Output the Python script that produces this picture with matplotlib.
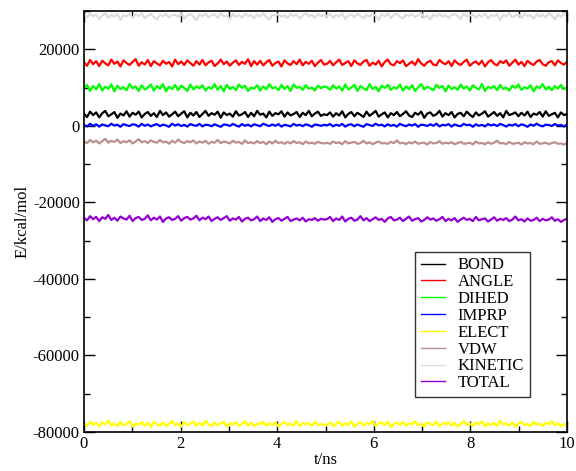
import numpy as np
import matplotlib
matplotlib.use("Agg")
import matplotlib.pyplot as plt
from matplotlib.ticker import MultipleLocator

labels = ["BOND", "ANGLE", "DIHED", "IMPRP", "ELECT", "VDW", "KINETIC", "TOTAL"]
colors = ["#000000", "#ff0000", "#00ff00", "#0000ff", "#ffff00", "#bc8f8f", "#dcdcdc", "#9400d3"]

BOND = [3100, 2300, 3700, 2800, 3500, 2200, 3300, 3900, 2500, 3000, 3600, 2100, 3200, 2700, 3800, 2400,
        3400, 2900, 3700, 2200, 3100, 3600, 2600, 3300, 2300, 3900, 2800, 3500, 2400, 3000, 3700, 2500,
        3200, 3800, 2200, 3400, 2700, 3600, 2300, 3100, 3900, 2600, 3300, 2900, 3700, 2100, 3500, 2800,
        3200, 2400, 3800, 2700, 3000, 3600, 2300, 3400, 2500, 3900, 2900, 3200, 2200, 3700, 2600, 3300,
        3000, 3800, 2400, 3500, 2700, 3100, 3600, 2300, 3400, 2800, 3900, 2500, 3200, 3700, 2600, 3000,
        2800, 3500, 2400, 3300, 2700, 3800, 2200, 3100, 3600, 2500, 3400, 2900, 2300, 3700, 2600, 3200,
        3900, 2400, 3000, 3500, 2200, 3300, 2800, 3600, 2500, 3100, 3800, 2700, 2300, 3400, 2900, 3700,
        2100, 3200, 3500, 2600, 3000, 3900, 2400, 3300, 2800, 3600, 2200, 3100, 3400, 2500, 3700, 2900,
        2300, 3500, 2700, 3200, 3800, 2400, 3000, 3600, 2600, 3300, 2200, 3900, 2800, 3100, 3500, 2500,
        3400, 2700, 3700, 2300, 3200, 2900, 3600, 2400, 3800, 2600, 3000, 3400, 2200, 3500, 2800, 3100]
ANGLE = [16500, 15700, 17200, 16100, 16900, 15600, 17000, 16300, 15800, 17300, 16200, 16800, 15500, 17100,
         16400, 15900, 16700, 17400, 15700, 16600, 16000, 17200, 15600, 16900, 16300, 15800, 17000, 16200,
         16700, 15500, 17300, 16100, 16800, 15900, 17100, 16400, 15700, 16900, 16000, 17200, 15800, 16600,
         17000, 15600, 16300, 17300, 16100, 16800, 15700, 16500, 17100, 15900, 16700, 16200, 17400, 15600,
         16900, 16000, 17000, 15800, 16600, 17200, 15700, 16400, 16800, 15500, 17100, 16300, 15900, 16900,
         16100, 17300, 15800, 16700, 16200, 17000, 15600, 16500, 17200, 16000,
         16200, 17000, 15800, 16600, 17300, 15900, 16400, 16900, 15600, 17100, 16300, 15900, 16800, 17200,
         15700, 16500, 16000, 17000, 15500, 16700, 17300, 16100, 15800, 16900, 16400, 17100, 15600, 16200,
         16800, 15900, 17400, 16300, 15700, 16600, 17000, 16000, 15800, 17200, 16500, 16100, 16900, 15600,
         17100, 16300, 15900, 16700, 17300, 15700, 16400, 16800, 16000, 17000, 15500, 16600, 17200, 16200,
         15800, 16900, 16400, 17100, 15700, 16500, 17300, 16000, 16700, 15600, 17000, 16300, 15900, 16800,
         17200, 16100, 15700, 16600, 16900, 15800, 17100, 16400, 16000, 16700]
DIHED = [9800, 10700, 9100, 10400, 9500, 10900, 9200, 10200, 9700, 10800, 9000, 10500, 9600, 10100, 9300,
         10900, 9800, 10300, 9100, 10600, 9500, 10000, 10800, 9200, 10400, 9700, 10900, 9000, 10200, 9600,
         10700, 9300, 10500, 9900, 9100, 10800, 9500, 10300, 9800, 10600, 9200, 10100, 9700, 10900, 9400,
         10400, 9000, 10700, 9600, 10200, 9300, 10800, 9900, 10500, 9100, 10000, 9700, 10600, 9200, 10300,
         9500, 10900, 9800, 10100, 9300, 10700, 9600, 10400, 9100, 10800, 9900, 10200, 9400, 10600, 9700,
         10000, 9200, 10500, 9800, 10300,
         10100, 9400, 10600, 9700, 10300, 9200, 10800, 9500, 10000, 10700, 9100, 10400, 9800, 9300, 10900,
         9600, 10200, 9000, 10500, 9900, 10700, 9400, 10100, 9700, 10800, 9200, 10300, 9600, 10600, 9100,
         10000, 10900, 9500, 10200, 9800, 9300, 10700, 9900, 10400, 9000, 10500, 9600, 10100, 9400, 10800,
         9700, 10300, 9200, 10600, 9900, 9500, 10900, 9100, 10200, 9800, 10400, 9300, 10700, 9600, 10000,
         9200, 10500, 9900, 10800, 9400, 10100, 9700, 10600, 9000, 10300, 9800, 10900, 9500, 10200, 9300,
         10400, 9700, 10700, 9600, 10000]
IMPRP = [200, -150, 500, 0, 400, -200, 350, 100, -100, 550, 50, 300, -250, 450, 150, -50, 400, 250, -200,
         500, 0, 350, -150, 200, 450, -100, 300, 100, -250, 550, 50, 400, -50, 250, -200, 450, 150, 0, 500,
         -150, 300, 200, -100, 400, 50, -250, 350, 250, -50, 500, 100, -200, 450, 0, 300, -150, 400, 150,
         -100, 550, 200, -50, 350, 0, 450, -200, 250, 100, -150, 500, 50, 300, -100, 400, 150, -250, 350,
         200, 0, 250,
         100, 450, -150, 300, 0, 500, -200, 250, 400, -100, 350, 50, -250, 450, 200, -50, 550, 100, 300,
         -150, 400, 0, 250, -200, 500, 150, -100, 350, 50, 450, -250, 300, 200, -50, 400, 0, 550, -150,
         250, 100, 450, -200, 350, 50, -100, 500, 150, 300, -250, 400, 0, 250, -150, 450, 100, 350, -50,
         500, 200, -200, 300, 50, 450, -100, 400, 150, -250, 350, 0, 550, 100, -150, 300, 200, -50, 450,
         50, 250, -200, 400]
ELECT = [-77800, -78400, -77300, -78100, -77600, -78600, -77500, -78000, -77100, -78300, -77700, -78500,
         -77400, -78200, -77900, -77200, -78600, -77800, -78100, -77400, -78400, -77600, -78700, -77300,
         -78000, -78300, -77500, -78500, -77800, -77200, -78200, -77700, -78600, -77400, -78100, -77900,
         -77300, -78400, -77600, -78300, -77100, -78000, -78500, -77500, -78200, -77800, -77300, -78600,
         -77700, -78100, -77400, -78400, -77900, -77200, -78300, -77600, -78500, -77800, -78000, -77300,
         -78400, -77700, -78200, -77500, -78600, -77900, -77400, -78100, -77800, -78300, -77200, -78500,
         -77600, -78000, -77700, -78400, -77300, -78200, -77900, -78100,
         -78200, -77500, -78500, -77800, -77300, -78400, -77700, -78100, -77200, -78600, -77900, -77400,
         -78300, -77600, -78000, -77100, -78500, -77800, -77500, -78200, -77300, -78700, -77900, -77600,
         -78100, -77400, -78400, -77700, -78000, -77200, -78300, -77800, -78600, -77500, -77900, -78200,
         -77300, -78500, -77700, -78000, -77400, -78300, -77600, -78600, -77900, -77200, -78100, -77800,
         -78400, -77500, -78000, -77300, -78500, -77700, -78200, -77600, -78400, -77100, -78000, -77800,
         -78300, -77500, -78600, -77700, -77400, -78200, -77900, -78500, -77300, -78100, -77800, -78400,
         -77600, -78000, -77200, -78300, -77700, -78500, -77900, -78000]
VDW = [-4100, -4500, -3700, -4300, -3900, -4600, -4000, -3400, -4400, -3900, -4200, -3600, -4500, -4000,
       -4300, -3800, -4600, -4100, -3500, -4300, -4000, -4500, -3800, -4200, -4400, -3700, -4300, -4100,
       -4700, -3900, -4400, -3600, -4200, -4500, -4000, -4300, -3800, -4600, -4100, -4400, -3900, -4700,
       -4200, -4400, -3700, -4500, -4100, -4300, -4600, -3900, -4400, -4200, -4700, -3800, -4500, -4300,
       -4600, -4000, -4500, -4200, -4800, -4100, -4600, -3900, -4500, -4300, -4700, -4200, -4600, -4000,
       -4500, -4300, -4800, -4100, -4600, -4400, -4700, -4200, -4500, -4600,
       -4400, -4700, -4100, -4500, -4300, -4800, -4000, -4600, -4400, -4200, -4700, -4500, -3900, -4600,
       -4300, -4800, -4400, -4100, -4600, -4500, -4700, -4200, -4500, -3800, -4600, -4400, -4800, -4300,
       -4600, -4100, -4700, -4500, -4400, -4900, -4200, -4600, -4500, -4000, -4700, -4400, -4600, -4300,
       -4800, -4500, -4200, -4700, -4600, -4400, -4900, -4100, -4600, -4500, -4800, -4300, -4700, -4400,
       -3900, -4600, -4500, -4800, -4200, -4700, -4600, -4400, -4900, -4300, -4600, -4500, -4800, -4100,
       -4700, -4600, -4400, -4800, -4500, -4300, -4700, -4600, -4900, -4500]
KINETIC = [28900, 28400, 29300, 28600, 29100, 27900, 28800, 29400, 28300, 29000, 28500, 29200, 27700, 28900,
           28600, 29300, 28200, 29000, 28700, 29400, 28100, 28800, 29200, 28400, 27800, 29100, 28600, 29300,
           28300, 28900, 29000, 28500, 29400, 28000, 28800, 29200, 28600, 27600, 29000, 28700, 29300, 28400,
           28900, 29100, 28200, 29400, 28600, 28800, 27900, 29200, 28500, 29000, 28300, 29300, 28700, 28900,
           28100, 29100, 28600, 29400, 28400, 27800, 29000, 28800, 29200, 28500, 28900, 28200, 29300, 28700,
           29100, 28000, 28800, 29400, 28600, 29000, 28300, 29200, 28700, 28900,
           28700, 29200, 28300, 29000, 28600, 29400, 27900, 28800, 29100, 28400, 29300, 28700, 28100, 29000,
           28500, 29200, 28800, 27700, 29100, 28600, 29400, 28200, 28900, 29300, 28500, 28000, 29000, 28700,
           29200, 28400, 28900, 29400, 28300, 28800, 27800, 29100, 28600, 29300, 28500, 29000, 28200, 28900,
           29200, 28700, 27900, 29400, 28600, 28800, 29100, 28300, 29000, 28500, 29300, 28100, 28900, 28700,
           29200, 27600, 29000, 28600, 29400, 28400, 28800, 29100, 28200, 29300, 28700, 28900, 28000, 29200,
           28600, 29000, 28400, 29400, 28800, 27800, 29100, 28500, 29300, 28700]
TOTAL = [-24100, -24700, -23600, -24400, -23800, -24900, -23900, -24300, -23300, -24600, -24000, -24800,
         -23700, -24200, -24500, -23500, -24900, -24100, -23800, -24600, -24300, -23400, -24700, -24000,
         -24500, -23700, -25100, -24200, -23900, -24600, -24300, -23600, -24800, -24100, -23800, -24500,
         -24200, -23500, -24700, -24000, -24400, -23700, -24900, -24300, -23900, -24600, -24100, -23600,
         -24800, -24200, -24500, -23800, -25000, -24300, -24000, -24700, -24400, -23700, -24900, -24200,
         -24600, -23900, -25100, -24400, -24100, -24800, -24300, -23800, -24900, -24500, -24200, -24700,
         -24000, -25000, -24400, -24600, -24100, -24800, -24300, -24500,
         -24400, -23800, -24900, -24200, -24600, -23700, -25000, -24300, -24000, -24800, -24500, -23600,
         -24700, -24100, -24900, -24400, -23900, -24600, -24300, -25100, -24200, -23800, -24700, -24500,
         -24000, -24900, -24300, -23700, -24800, -24400, -24100, -25000, -24600, -23900, -24500, -24200,
         -24800, -24400, -23800, -24900, -24300, -24700, -24100, -25100, -24500, -24000, -24600, -24300,
         -24900, -23800, -24700, -24400, -24200, -25000, -24500, -23900, -24800, -24300, -24600, -24100,
         -24900, -24500, -23700, -24700, -24400, -25000, -24200, -24800, -24600, -24000, -24900, -24300,
         -24700, -24500, -23900, -24800, -24400, -25100, -24600, -24300]

series = [BOND, ANGLE, DIHED, IMPRP, ELECT, VDW, KINETIC, TOTAL]
t_start, t_end = 0.0, 10.0

plt.rcParams['font.family'] = ['Liberation Serif', 'DejaVu Serif']
plt.rcParams['axes.unicode_minus'] = False
fig = plt.figure(figsize=(5.76, 4.71), dpi=100)
ax = fig.add_axes([84/576, 1-432/471, (567-84)/576, (432-11)/471])

for vals, lab, col in zip(series, labels, colors):
    t = np.linspace(t_start, t_end, len(vals))
    ax.plot(t, vals, color=col, lw=1.6, label=lab)

ax.set_xlim(0, 10)
ax.set_ylim(-80000, 30000)
ax.xaxis.set_major_locator(MultipleLocator(2))
ax.xaxis.set_minor_locator(MultipleLocator(1))
ax.yaxis.set_major_locator(MultipleLocator(20000))
ax.yaxis.set_minor_locator(MultipleLocator(10000))
ax.tick_params(which='both', direction='in', top=True, right=True, labelsize=12, width=1)
ax.tick_params(which='major', length=8, pad=3)
ax.tick_params(which='minor', length=4.5)
ax.set_yticks([-80000, -60000, -40000, -20000, 0, 20000])
for s in ax.spines.values():
    s.set_linewidth(1.2)
ax.set_xlabel("t/ns", fontsize=12, labelpad=0)
ax.set_ylabel("E/kcal/mol", fontsize=12, labelpad=2)

leg = ax.legend(loc='lower left', bbox_to_anchor=(0.685, 0.083), fontsize=12,
                frameon=True, fancybox=False, borderaxespad=0, borderpad=0.35,
                labelspacing=0.05, handlelength=1.45, handletextpad=0.78)
leg.get_frame().set_edgecolor('black')
leg.get_frame().set_linewidth(1.0)
for h in leg.get_lines():
    h.set_linewidth(1.0)

fig.savefig("out.png", dpi=100)
